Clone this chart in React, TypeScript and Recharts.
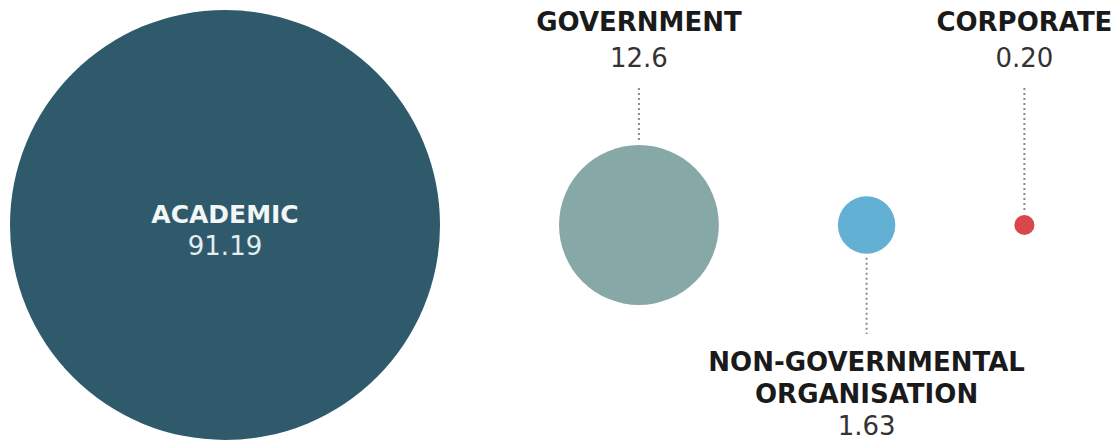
import React from "react";
import { ScatterChart, Scatter, XAxis, YAxis, ZAxis } from "recharts";

// Funding share by sector
const categories = ["ACADEMIC", "GOVERNMENT", "NON-GOVERNMENTAL ORGANISATION", "CORPORATE"];
const values = [91.19, 12.6, 1.63, 0.2];
const valueLabels = ["91.19", "12.6", "1.63", "0.20"];

const colors = ["#2F5A6B", "#86A9A8", "#63B0D5", "#D9474B"];
const placement = ["inside", "above", "below", "above"];

const WIDTH = 1113;
const HEIGHT = 444;
const MAX_R = 215;
const GAP = 119;
const LEFT = 10;
const FONT = "'DejaVu Sans', sans-serif";

const maxValue = Math.max(...values);
const radiusOf = (v: number) => MAX_R * Math.sqrt(v / maxValue);

// pack circles left to right with a constant gap
let cursor = LEFT;
const chartData = categories.map((name, i) => {
  const r = radiusOf(values[i]);
  const x = cursor + r;
  cursor = x + r + GAP;
  return { name, idx: i, x, y: 0.5, value: values[i], label: valueLabels[i] };
});

const Bubble = (props: any) => {
  const { cx, cy, size, payload } = props;
  const r = Math.sqrt(size / Math.PI);
  const i = payload.idx;
  const lines = payload.name.split(" ");
  const place = placement[i];
  const dots = { stroke: "#8A8A8A", strokeWidth: 2, strokeDasharray: "2 3" };

  return (
    <g>
      <circle cx={cx} cy={cy} r={r} fill={colors[i]} />
      {place === "inside" && (
        <g textAnchor="middle" fontFamily={FONT}>
          <text x={cx} y={cy - 2} fontSize={25} fontWeight="bold" fill="#F2F6F7">
            {lines[0]}
          </text>
          <text x={cx} y={cy + 30} fontSize={26} fill="#E3EDF0">
            {payload.label}
          </text>
        </g>
      )}
      {place === "above" && (
        <g textAnchor="middle" fontFamily={FONT}>
          <text x={cx} y={31} fontSize={26} fontWeight="bold" fill="#1A1A1A">
            {lines[0]}
          </text>
          <text x={cx} y={67} fontSize={26} fill="#333333">
            {payload.label}
          </text>
          <line x1={cx} x2={cx} y1={88} y2={cy - r - 4} {...dots} />
        </g>
      )}
      {place === "below" && (
        <g textAnchor="middle" fontFamily={FONT}>
          <line x1={cx} x2={cx} y1={cy + r + 4} y2={334} {...dots} />
          {lines.map((ln: string, k: number) => (
            <text key={k} x={cx} y={371 + k * 32} fontSize={26} fontWeight="bold" fill="#1A1A1A">
              {ln}
            </text>
          ))}
          <text x={cx} y={371 + lines.length * 32} fontSize={26} fill="#333333">
            {payload.label}
          </text>
        </g>
      )}
    </g>
  );
};

export default function App() {
  return (
    <div style={{ position: "absolute", left: 0, top: 0, width: WIDTH, height: HEIGHT, background: "#fff" }}>
      <ScatterChart width={WIDTH} height={HEIGHT} margin={{ top: 6, right: 0, bottom: 0, left: 0 }}>
        <XAxis type="number" dataKey="x" domain={[0, WIDTH]} hide />
        <YAxis type="number" dataKey="y" domain={[0, 1]} hide />
        <ZAxis type="number" dataKey="value" domain={[0, maxValue]} range={[0, Math.PI * MAX_R * MAX_R]} />
        <Scatter data={chartData} shape={<Bubble />} isAnimationActive={false} />
      </ScatterChart>
    </div>
  );
}
